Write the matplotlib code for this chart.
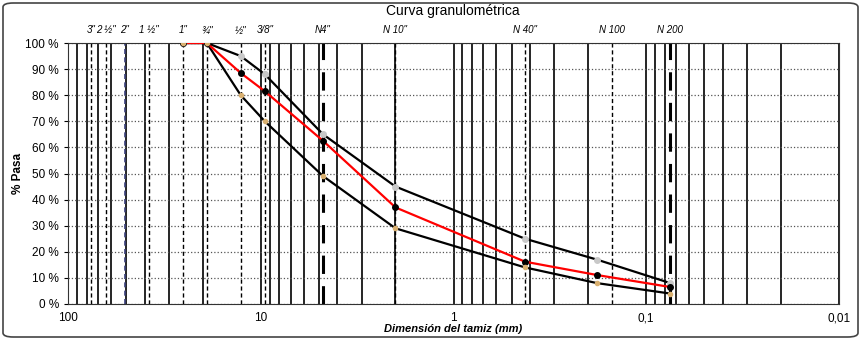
import numpy as np
import matplotlib.pyplot as plt
from matplotlib.patches import FancyBboxPatch
from matplotlib.ticker import FixedLocator, LogLocator, NullFormatter

plt.rcParams['font.family'] = ['Liberation Sans', 'DejaVu Sans']

# Tamices (mm) y nombres
sieve_names = ['3"', '2 ½"', '2"', '1 ½"', '1"', '¾"', '½"', '3/8"', 'N4"', 'N 10"', 'N 40"', 'N 100', 'N 200']
sieve_sizes = [76.2, 63.5, 50.8, 38.1, 25.4, 19.05, 12.7, 9.525, 4.75, 2.0, 0.425, 0.15, 0.075]

# Curvas
sizes = [25.4, 19.05, 12.7, 9.525, 4.75, 2.0, 0.425, 0.18, 0.075]
upper = [100, 100, 95, 88, 65, 45, 25, 17, 8]
sample = [100, 100, 88.5, 81.5, 62.5, 37, 16.2, 11.1, 6.5]
lower = [100, 100, 80, 70, 49, 29, 14, 8, 4]

x_ticks = [100, 10, 1, 0.1, 0.01]
x_labels = ['100', '10', '1', '0,1', '0,01']
y_ticks = list(range(0, 101, 10))

fig = plt.figure(figsize=(8.61, 3.40), dpi=100)
ax = fig.add_axes([68 / 861, 1 - 304 / 340, 771 / 861, 261 / 340])

# borde redondeado
fig.patches.append(FancyBboxPatch((3 / 861, 3 / 340), 855 / 861, 334 / 340,
                                  boxstyle='round,pad=0,rounding_size=0.012',
                                  transform=fig.transFigure, fill=False,
                                  ec='#444444', lw=1.2))

ax.set_xscale('log')
ax.set_xlim(100, 0.01)
ax.set_ylim(0, 100)

ax.xaxis.set_major_locator(FixedLocator(x_ticks))
ax.set_xticks(x_ticks)
ax.set_xticklabels(x_labels, fontsize=8.5)
ax.xaxis.set_minor_locator(LogLocator(base=10, subs=np.arange(2, 10)))
ax.xaxis.set_minor_formatter(NullFormatter())
ax.set_yticks(y_ticks)
ax.set_yticklabels([f'{v} %' for v in y_ticks], fontsize=8.5)
ax.tick_params(axis='x', which='both', length=0, pad=6)
ax.tick_params(axis='y', length=3)

ax.grid(axis='x', which='both', color='black', lw=1.2, ls='-')
ax.grid(axis='y', which='major', color='#555555', lw=0.9, ls=':')
ax.set_axisbelow(True)

# lineas de tamices
for name, s in zip(sieve_names, sieve_sizes):
    if name in ('N4"', 'N 200'):
        ax.axvline(s, color='black', lw=2.2, ls=(0, (6, 4)), zorder=1.5)
    elif name == '2"':
        ax.axvline(s, color='#3a3f7a', lw=1.2, ls=(0, (3, 2)), zorder=1.5)
    else:
        ax.axvline(s, color='black', lw=1.0, ls=(0, (3, 2)), zorder=1.5)
    ax.text(s, 105, name, ha='center', va='center', fontsize=7, style='italic')

ax.plot(sizes, upper, color='black', lw=1.6, marker='o', ms=4,
        mfc='#c8c8c8', mec='#c8c8c8', zorder=3)
ax.plot(sizes, lower, color='black', lw=1.6, zorder=3)
ax.plot(sizes, sample, color='#ff0000', lw=1.6, marker='o', ms=4,
        mfc='black', mec='black', zorder=4)
ax.plot(sizes, lower, ls='none', marker='o', ms=3,
        mfc='#d9b070', mec='#d9b070', zorder=5)

for sp in ax.spines.values():
    sp.set_color('#333333')
    sp.set_linewidth(0.8)

fig.text(453 / 861, 1 - 11 / 340, 'Curva granulométrica', ha='center', va='center', fontsize=10)
ax.set_ylabel('% Pasa', fontsize=8.5, fontweight='bold')
ax.yaxis.set_label_coords(-0.057, 0.5)
fig.text(453 / 861, 1 - 329 / 340, 'Dimensión del tamiz (mm)', ha='center', va='center',
         fontsize=8, fontweight='bold', style='italic')

fig.savefig('out.png', dpi=100)
